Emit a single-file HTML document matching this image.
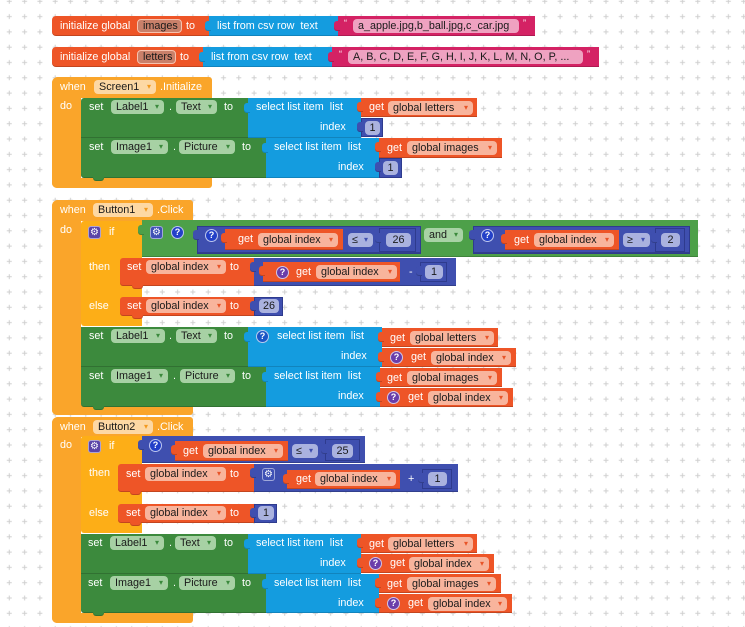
<!DOCTYPE html>
<html><head><meta charset="utf-8">
<style>
html,body{margin:0;padding:0;}
body{width:745px;height:627px;overflow:hidden;background:#fff;position:relative;font-family:"Liberation Sans","DejaVu Sans",Arial,sans-serif;}
.b{position:absolute;box-sizing:border-box;}
.v{background:#EE5527;box-shadow:inset 0 -1px 0 rgba(0,0,0,.18);}
.l{background:#149CDF;box-shadow:inset 0 -1px 0 rgba(0,0,0,.15);}
.x{background:#D42264;box-shadow:inset 0 -1px 0 rgba(0,0,0,.18);}
.m{background:#3F4FAF;box-shadow:inset 0 -1px 0 rgba(0,0,0,.2);}
.mn{background:#3F4FAF;border:1px solid #2E3B8E;}
.g{background:#3C8A3D;box-shadow:inset 0 -1px 0 rgba(0,0,0,.18);}
.lg{background:#4DA049;box-shadow:inset 0 -1px 0 rgba(0,0,0,.18);}
.e{background:#FAA52A;}
.c{background:#FDAE17;}
.tb{position:absolute;width:6px;height:10px;border-radius:3px 0 0 3px;}
.t{position:absolute;color:#fff;font-size:10.8px;line-height:14px;height:14px;white-space:nowrap;}
.p{position:absolute;box-sizing:border-box;height:14px;border-radius:4px;color:#1a1a1a;font-size:10.8px;line-height:14px;white-space:nowrap;padding-left:5px;}
.p i{font-style:normal;position:absolute;right:5px;top:0;font-size:8px;font-family:"DejaVu Sans",sans-serif;}
.pv{background:#F8B49C;} .pv i{color:#E8552A;}
.pg{background:#A7D1A4;} .pg i{color:#3C8A3D;}
.pe{background:#FDD8A4;} .pe i{color:#F39A1F;}
.pm{background:#AAB2DF;padding-left:0;text-align:center;} .pm i{color:#3F4FAF;}
.px{background:#EFA2C1;}
.pi{background:#C9806A;border:1px solid #F6C2AE;line-height:12px;}
.pl{background:#A8D3A5;} .pl i{color:#3C8A3D;}
.q{position:absolute;box-sizing:border-box;width:13px;height:13px;border-radius:50%;color:#fff;font-size:9px;font-weight:bold;text-align:center;line-height:11px;border:1px solid rgba(255,255,255,.7);}
.qm{background:#2340C8;} .qs{background:#1A56C6;} .qp{background:#6A3DAA;}
.gr{position:absolute;box-sizing:border-box;width:13px;height:13px;border-radius:3px;color:#fff;font-size:10px;text-align:center;line-height:12px;font-family:"DejaVu Sans",sans-serif;border:1px solid rgba(255,255,255,.5);}
.gp{background:#5B45A8;} .gi{background:#3F51B5;}
.qt{position:absolute;color:#fff;font-size:9px;line-height:10px;}
</style></head><body>
<svg width="745" height="627" style="position:absolute;left:0;top:0">
<defs><pattern id="gp" x="1.65" y="-6.35" width="15.3" height="15.3" patternUnits="userSpaceOnUse">
<path d="M5.15 7.65H10.15M7.65 5.15V10.15" stroke="#cfcfcf" stroke-width="1"/></pattern></defs>
<rect width="745" height="627" fill="url(#gp)"/>
</svg>

<!-- Block 1 -->
<div class="b v" style="left:52px;top:16px;width:157px;height:20px;border-radius:4px 0 0 4px"></div>
<div class="t" style="left:60px;top:19px">initialize global</div>
<div class="p pi" style="left:137px;top:19px;width:45px">images</div>
<div class="t" style="left:186px;top:19px">to</div>
<div class="b l" style="left:209px;top:16px;width:129px;height:20px"></div>
<div class="tb l" style="left:205px;top:21px"></div>
<div class="t" style="left:217px;top:19px">list from csv row&nbsp; text</div>
<div class="b x" style="left:338px;top:16px;width:197px;height:20px"></div>
<div class="tb x" style="left:334px;top:21px"></div>
<div class="qt" style="left:344px;top:18px">“</div>
<div class="p px" style="left:353px;top:19px;width:166px">a_apple.jpg,b_ball.jpg,c_car.jpg</div>
<div class="qt" style="left:523px;top:18px">”</div>

<!-- Block 2 -->
<div class="b v" style="left:52px;top:47px;width:151px;height:20px;border-radius:4px 0 0 4px"></div>
<div class="t" style="left:60px;top:50px">initialize global</div>
<div class="p pi" style="left:137px;top:50px;width:39px">letters</div>
<div class="t" style="left:180px;top:50px">to</div>
<div class="b l" style="left:203px;top:47px;width:129px;height:20px"></div>
<div class="tb l" style="left:199px;top:52px"></div>
<div class="t" style="left:211px;top:50px">list from csv row&nbsp; text</div>
<div class="b x" style="left:332px;top:47px;width:267px;height:20px"></div>
<div class="tb x" style="left:328px;top:52px"></div>
<div class="qt" style="left:339px;top:49px">“</div>
<div class="p px" style="left:348px;top:50px;width:235px">A, B, C, D, E, F, G, H, I, J, K, L, M, N, O, P, ...</div>
<div class="qt" style="left:587px;top:49px">”</div>

<!-- Screen1 Initialize -->
<div class="b e" style="left:52px;top:77px;width:160px;height:21px;border-radius:6px 3px 0 0"></div>
<div class="b e" style="left:52px;top:77px;width:29px;height:111px;border-radius:6px 0 0 5px"></div>
<div class="b e" style="left:52px;top:178px;width:160px;height:10px;border-radius:0 0 3px 5px"></div>
<div class="t" style="left:60px;top:80px">when</div>
<div class="p pe" style="left:94px;top:80px;width:62px">Screen1<i>▾</i></div>
<div class="t" style="left:160px;top:80px">.Initialize</div>
<div class="t" style="left:60px;top:99px">do</div>

<div class="b g" style="left:81px;top:98px;width:167px;height:40px;border-radius:3px 0 0 0"></div>
<div class="t" style="left:89px;top:100px">set</div>
<div class="p pg" style="left:111px;top:100px;width:53px">Label1<i>▾</i></div>
<div class="t" style="left:169px;top:100px">.</div>
<div class="p pg" style="left:176px;top:100px;width:41px">Text<i>▾</i></div>
<div class="t" style="left:224px;top:100px">to</div>
<div class="b l" style="left:248px;top:98px;width:113px;height:40px"></div>
<div class="tb l" style="left:244px;top:103px"></div>
<div class="t" style="left:256px;top:100px">select list item&nbsp; list</div>
<div class="t" style="left:320px;top:120px">index</div>
<div class="b v" style="left:361px;top:98px;width:116px;height:19px"></div>
<div class="tb v" style="left:357px;top:102px"></div>
<div class="t" style="left:369px;top:100px">get</div>
<div class="p pv" style="left:388px;top:101px;width:85px">global letters<i>▾</i></div>
<div class="b mn" style="left:361px;top:118px;width:22px;height:19px"></div>
<div class="tb m" style="left:357px;top:122px"></div>
<div class="p pm" style="left:365px;top:121px;width:15px">1</div>

<div class="b g" style="left:81px;top:138px;width:185px;height:40px;border-radius:0 0 0 3px"></div>
<div class="b g" style="left:93px;top:177px;width:11px;height:4px;border-radius:0 0 3px 3px"></div>
<div class="t" style="left:89px;top:140px">set</div>
<div class="p pg" style="left:111px;top:140px;width:57px">Image1<i>▾</i></div>
<div class="t" style="left:173px;top:140px">.</div>
<div class="p pg" style="left:179px;top:140px;width:56px">Picture<i>▾</i></div>
<div class="t" style="left:242px;top:140px">to</div>
<div class="b l" style="left:266px;top:138px;width:113px;height:40px"></div>
<div class="tb l" style="left:262px;top:143px"></div>
<div class="t" style="left:274px;top:140px">select list item&nbsp; list</div>
<div class="t" style="left:338px;top:160px">index</div>
<div class="b v" style="left:379px;top:138px;width:123px;height:20px"></div>
<div class="tb v" style="left:375px;top:142px"></div>
<div class="t" style="left:387px;top:141px">get</div>
<div class="p pv" style="left:407px;top:141px;width:90px">global images<i>▾</i></div>
<div class="b mn" style="left:379px;top:158px;width:23px;height:20px"></div>
<div class="tb m" style="left:375px;top:162px"></div>
<div class="p pm" style="left:383px;top:161px;width:15px">1</div>

<!-- Button1 Click -->
<div class="b e" style="left:52px;top:200px;width:141px;height:21px;border-radius:6px 3px 0 0"></div>
<div class="b e" style="left:52px;top:200px;width:29px;height:215px;border-radius:6px 0 0 5px"></div>
<div class="b e" style="left:52px;top:405px;width:141px;height:10px;border-radius:0 0 3px 5px"></div>
<div class="t" style="left:60px;top:203px">when</div>
<div class="p pe" style="left:93px;top:203px;width:60px">Button1<i>▾</i></div>
<div class="t" style="left:157px;top:203px">.Click</div>
<div class="t" style="left:60px;top:223px">do</div>

<div class="b c" style="left:81px;top:221px;width:61px;height:105px;border-radius:3px 0 0 3px"></div>
<div class="gr gp" style="left:88px;top:226px">⚙</div>
<div class="t" style="left:109px;top:225px">if</div>
<div class="t" style="left:89px;top:260px">then</div>
<div class="t" style="left:89px;top:299px">else</div>

<div class="b lg" style="left:142px;top:220px;width:556px;height:37px"></div>
<div class="tb lg" style="left:138px;top:225px"></div>
<div class="gr gi" style="left:150px;top:226px">⚙</div>
<div class="q qm" style="left:171px;top:226px">?</div>
<div class="b m" style="left:197px;top:226px;width:224px;height:28px;border:1px solid #2E3B8E"></div>
<div class="tb m" style="left:193px;top:230px"></div>
<div class="q qm" style="left:205px;top:229px">?</div>
<div class="b v" style="left:225px;top:229px;width:118px;height:21px"></div>
<div class="tb v" style="left:221px;top:233px"></div>
<div class="t" style="left:238px;top:232px">get</div>
<div class="p pv" style="left:258px;top:233px;width:80px">global index<i>▾</i></div>
<div class="p pm" style="left:348px;top:233px;width:25px;text-align:left;padding-left:4px">≤<i>▾</i></div>
<div class="b mn" style="left:379px;top:228px;width:37px;height:24px"></div>
<div class="tb m" style="left:375px;top:233px"></div>
<div class="p pm" style="left:386px;top:233px;width:25px">26</div>
<div class="p pl" style="left:424px;top:228px;width:39px">and<i>▾</i></div>
<div class="b m" style="left:473px;top:226px;width:217px;height:28px;border:1px solid #2E3B8E"></div>
<div class="tb m" style="left:469px;top:230px"></div>
<div class="q qm" style="left:481px;top:229px">?</div>
<div class="b v" style="left:505px;top:230px;width:114px;height:20px"></div>
<div class="tb v" style="left:501px;top:234px"></div>
<div class="t" style="left:514px;top:233px">get</div>
<div class="p pv" style="left:534px;top:233px;width:80px">global index<i>▾</i></div>
<div class="p pm" style="left:623px;top:233px;width:27px;text-align:left;padding-left:4px">≥<i>▾</i></div>
<div class="b mn" style="left:655px;top:228px;width:30px;height:24px"></div>
<div class="tb m" style="left:651px;top:233px"></div>
<div class="p pm" style="left:661px;top:233px;width:19px">2</div>

<div class="b v" style="left:120px;top:258px;width:134px;height:28px;border-radius:3px 0 0 3px"></div>
<div class="b v" style="left:132px;top:285px;width:11px;height:4px;border-radius:0 0 3px 3px"></div>
<div class="t" style="left:127px;top:260px">set</div>
<div class="p pv" style="left:146px;top:260px;width:80px">global index<i>▾</i></div>
<div class="t" style="left:230px;top:260px">to</div>
<div class="b m" style="left:254px;top:258px;width:202px;height:28px"></div>
<div class="tb m" style="left:250px;top:262px"></div>
<div class="b v" style="left:263px;top:262px;width:137px;height:20px"></div>
<div class="tb v" style="left:259px;top:266px"></div>
<div class="q qp" style="left:276px;top:266px">?</div>
<div class="t" style="left:296px;top:265px">get</div>
<div class="p pv" style="left:316px;top:265px;width:81px">global index<i>▾</i></div>
<div class="t" style="left:409px;top:265px">-</div>
<div class="b mn" style="left:420px;top:262px;width:27px;height:20px"></div>
<div class="tb m" style="left:416px;top:266px"></div>
<div class="p pm" style="left:425px;top:265px;width:18px">1</div>

<div class="b v" style="left:120px;top:297px;width:134px;height:19px;border-radius:3px 0 0 3px"></div>
<div class="b v" style="left:132px;top:315px;width:11px;height:4px;border-radius:0 0 3px 3px"></div>
<div class="t" style="left:127px;top:299px">set</div>
<div class="p pv" style="left:146px;top:299px;width:80px">global index<i>▾</i></div>
<div class="t" style="left:230px;top:299px">to</div>
<div class="b mn" style="left:254px;top:297px;width:29px;height:19px"></div>
<div class="tb m" style="left:250px;top:301px"></div>
<div class="p pm" style="left:259px;top:299px;width:20px">26</div>

<div class="b g" style="left:81px;top:327px;width:167px;height:40px"></div>
<div class="t" style="left:89px;top:329px">set</div>
<div class="p pg" style="left:111px;top:329px;width:54px">Label1<i>▾</i></div>
<div class="t" style="left:169px;top:329px">.</div>
<div class="p pg" style="left:176px;top:329px;width:41px">Text<i>▾</i></div>
<div class="t" style="left:224px;top:329px">to</div>
<div class="b l" style="left:248px;top:327px;width:134px;height:40px"></div>
<div class="tb l" style="left:244px;top:332px"></div>
<div class="q qs" style="left:256px;top:330px">?</div>
<div class="t" style="left:277px;top:329px">select list item&nbsp; list</div>
<div class="t" style="left:341px;top:349px">index</div>
<div class="b v" style="left:382px;top:328px;width:116px;height:19px"></div>
<div class="tb v" style="left:378px;top:332px"></div>
<div class="t" style="left:390px;top:331px">get</div>
<div class="p pv" style="left:410px;top:331px;width:84px">global letters<i>▾</i></div>
<div class="b v" style="left:382px;top:348px;width:134px;height:19px"></div>
<div class="tb v" style="left:378px;top:352px"></div>
<div class="q qp" style="left:390px;top:351px">?</div>
<div class="t" style="left:411px;top:350px">get</div>
<div class="p pv" style="left:431px;top:351px;width:80px">global index<i>▾</i></div>

<div class="b g" style="left:81px;top:367px;width:185px;height:40px;border-radius:0 0 0 3px"></div>
<div class="b g" style="left:93px;top:406px;width:11px;height:4px;border-radius:0 0 3px 3px"></div>
<div class="t" style="left:89px;top:369px">set</div>
<div class="p pg" style="left:111px;top:369px;width:57px">Image1<i>▾</i></div>
<div class="t" style="left:173px;top:369px">.</div>
<div class="p pg" style="left:180px;top:369px;width:55px">Picture<i>▾</i></div>
<div class="t" style="left:242px;top:369px">to</div>
<div class="b l" style="left:266px;top:367px;width:114px;height:40px"></div>
<div class="tb l" style="left:262px;top:372px"></div>
<div class="t" style="left:274px;top:369px">select list item&nbsp; list</div>
<div class="t" style="left:338px;top:389px">index</div>
<div class="b v" style="left:380px;top:368px;width:122px;height:19px"></div>
<div class="tb v" style="left:376px;top:372px"></div>
<div class="t" style="left:387px;top:371px">get</div>
<div class="p pv" style="left:407px;top:371px;width:90px">global images<i>▾</i></div>
<div class="b v" style="left:380px;top:388px;width:133px;height:19px"></div>
<div class="tb v" style="left:376px;top:392px"></div>
<div class="q qp" style="left:387px;top:391px">?</div>
<div class="t" style="left:408px;top:390px">get</div>
<div class="p pv" style="left:428px;top:391px;width:80px">global index<i>▾</i></div>

<!-- Button2 Click -->
<div class="b e" style="left:52px;top:417px;width:141px;height:20px;border-radius:6px 3px 0 0"></div>
<div class="b e" style="left:52px;top:417px;width:29px;height:206px;border-radius:6px 0 0 5px"></div>
<div class="b e" style="left:52px;top:613px;width:141px;height:10px;border-radius:0 0 3px 5px"></div>
<div class="t" style="left:60px;top:420px">when</div>
<div class="p pe" style="left:93px;top:420px;width:60px">Button2<i>▾</i></div>
<div class="t" style="left:157px;top:420px">.Click</div>
<div class="t" style="left:60px;top:438px">do</div>

<div class="b c" style="left:81px;top:436px;width:61px;height:97px;border-radius:3px 0 0 3px"></div>
<div class="gr gp" style="left:88px;top:440px">⚙</div>
<div class="t" style="left:109px;top:439px">if</div>
<div class="t" style="left:89px;top:466px">then</div>
<div class="t" style="left:89px;top:506px">else</div>

<div class="b m" style="left:142px;top:436px;width:223px;height:27px"></div>
<div class="tb m" style="left:138px;top:440px"></div>
<div class="q qm" style="left:149px;top:439px">?</div>
<div class="b v" style="left:175px;top:441px;width:113px;height:20px"></div>
<div class="tb v" style="left:171px;top:445px"></div>
<div class="t" style="left:183px;top:444px">get</div>
<div class="p pv" style="left:203px;top:444px;width:80px">global index<i>▾</i></div>
<div class="p pm" style="left:292px;top:444px;width:26px;text-align:left;padding-left:4px">≤<i>▾</i></div>
<div class="b mn" style="left:325px;top:439px;width:35px;height:22px"></div>
<div class="tb m" style="left:321px;top:444px"></div>
<div class="p pm" style="left:332px;top:444px;width:21px">25</div>

<div class="b v" style="left:118px;top:464px;width:136px;height:28px;border-radius:3px 0 0 3px"></div>
<div class="b v" style="left:130px;top:491px;width:11px;height:4px;border-radius:0 0 3px 3px"></div>
<div class="t" style="left:126px;top:467px">set</div>
<div class="p pv" style="left:145px;top:467px;width:81px">global index<i>▾</i></div>
<div class="t" style="left:230px;top:467px">to</div>
<div class="b m" style="left:254px;top:464px;width:204px;height:28px"></div>
<div class="tb m" style="left:250px;top:468px"></div>
<div class="gr gi" style="left:262px;top:468px">⚙</div>
<div class="b v" style="left:287px;top:470px;width:113px;height:19px"></div>
<div class="tb v" style="left:283px;top:474px"></div>
<div class="t" style="left:296px;top:472px">get</div>
<div class="p pv" style="left:315px;top:472px;width:81px">global index<i>▾</i></div>
<div class="t" style="left:408px;top:472px">+</div>
<div class="b mn" style="left:422px;top:469px;width:30px;height:20px"></div>
<div class="tb m" style="left:418px;top:473px"></div>
<div class="p pm" style="left:428px;top:472px;width:19px">1</div>

<div class="b v" style="left:118px;top:504px;width:136px;height:19px;border-radius:3px 0 0 3px"></div>
<div class="b v" style="left:130px;top:522px;width:11px;height:4px;border-radius:0 0 3px 3px"></div>
<div class="t" style="left:126px;top:506px">set</div>
<div class="p pv" style="left:145px;top:506px;width:81px">global index<i>▾</i></div>
<div class="t" style="left:230px;top:506px">to</div>
<div class="b mn" style="left:254px;top:504px;width:23px;height:19px"></div>
<div class="tb m" style="left:250px;top:508px"></div>
<div class="p pm" style="left:258px;top:506px;width:16px">1</div>

<div class="b g" style="left:81px;top:534px;width:167px;height:40px"></div>
<div class="t" style="left:88px;top:536px">set</div>
<div class="p pg" style="left:110px;top:536px;width:54px">Label1<i>▾</i></div>
<div class="t" style="left:169px;top:536px">.</div>
<div class="p pg" style="left:175px;top:536px;width:41px">Text<i>▾</i></div>
<div class="t" style="left:224px;top:536px">to</div>
<div class="b l" style="left:248px;top:534px;width:113px;height:40px"></div>
<div class="tb l" style="left:244px;top:539px"></div>
<div class="t" style="left:256px;top:536px">select list item&nbsp; list</div>
<div class="t" style="left:320px;top:556px">index</div>
<div class="b v" style="left:361px;top:534px;width:116px;height:19px"></div>
<div class="tb v" style="left:357px;top:538px"></div>
<div class="t" style="left:369px;top:537px">get</div>
<div class="p pv" style="left:388px;top:537px;width:85px">global letters<i>▾</i></div>
<div class="b v" style="left:361px;top:554px;width:133px;height:19px"></div>
<div class="tb v" style="left:357px;top:558px"></div>
<div class="q qp" style="left:369px;top:557px">?</div>
<div class="t" style="left:390px;top:556px">get</div>
<div class="p pv" style="left:409px;top:557px;width:80px">global index<i>▾</i></div>

<div class="b g" style="left:81px;top:574px;width:185px;height:39px;border-radius:0 0 0 3px"></div>
<div class="b g" style="left:93px;top:612px;width:11px;height:4px;border-radius:0 0 3px 3px"></div>
<div class="t" style="left:88px;top:576px">set</div>
<div class="p pg" style="left:110px;top:576px;width:58px">Image1<i>▾</i></div>
<div class="t" style="left:173px;top:576px">.</div>
<div class="p pg" style="left:179px;top:576px;width:56px">Picture<i>▾</i></div>
<div class="t" style="left:242px;top:576px">to</div>
<div class="b l" style="left:266px;top:574px;width:113px;height:39px"></div>
<div class="tb l" style="left:262px;top:579px"></div>
<div class="t" style="left:274px;top:576px">select list item&nbsp; list</div>
<div class="t" style="left:338px;top:596px">index</div>
<div class="b v" style="left:379px;top:574px;width:122px;height:19px"></div>
<div class="tb v" style="left:375px;top:578px"></div>
<div class="t" style="left:387px;top:577px">get</div>
<div class="p pv" style="left:407px;top:577px;width:89px">global images<i>▾</i></div>
<div class="b v" style="left:379px;top:594px;width:133px;height:19px"></div>
<div class="tb v" style="left:375px;top:598px"></div>
<div class="q qp" style="left:387px;top:597px">?</div>
<div class="t" style="left:408px;top:596px">get</div>
<div class="p pv" style="left:428px;top:597px;width:79px">global index<i>▾</i></div>

</body></html>
